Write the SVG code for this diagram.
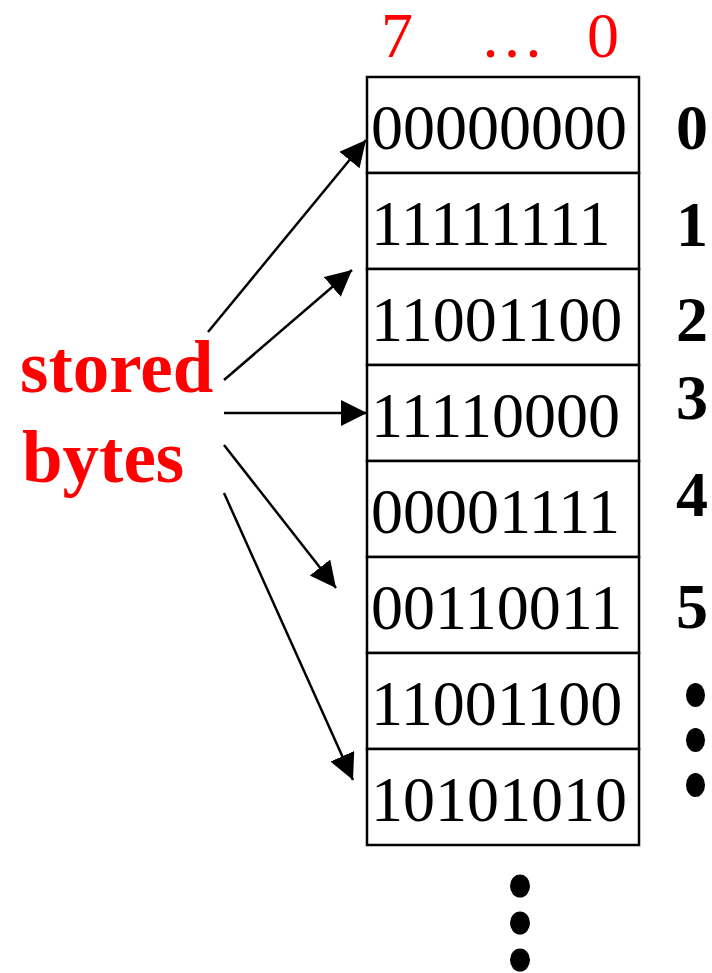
<svg xmlns="http://www.w3.org/2000/svg" width="712" height="973" viewBox="0 0 712 973">
<style>
.cell{fill:#fff;stroke:#000;stroke-width:2.5}
.bits{font-family:"Liberation Serif","Times New Roman",serif;font-size:64px;fill:#000}
.idx{font-family:"Liberation Serif","Times New Roman",serif;font-size:64px;font-weight:bold;fill:#000}
.hdr{font-family:"Liberation Serif","Times New Roman",serif;font-size:64px;fill:#f00}
.lbl{font-family:"Liberation Serif","Times New Roman",serif;font-size:73px;font-weight:bold;fill:#f00}
.conn{stroke:#000;stroke-width:2.5;fill:none;marker-end:url(#ah)}
.dot{fill:#000}
</style>
<defs>
<marker id="ah" markerUnits="userSpaceOnUse" markerWidth="28" markerHeight="28" refX="26" refY="13" orient="auto">
<path d="M0,0 L26,13 L0,26 Z" fill="#000"/>
</marker>
</defs>
<g id="header">
<text class="hdr" x="381" y="57">7</text>
<text class="hdr" x="480" y="57">…</text>
<text class="hdr" x="587" y="57">0</text>
</g>
<g id="label">
<text class="lbl" x="20" y="392">stored</text>
<text class="lbl" x="22" y="482">bytes</text>
</g>
<g id="row0"><rect class="cell" x="367" y="77" width="272" height="96"/><text class="bits" x="371" y="149">00000000</text></g>
<g id="row1"><rect class="cell" x="367" y="173" width="272" height="96"/><text class="bits" x="371" y="245">11111111</text></g>
<g id="row2"><rect class="cell" x="367" y="269" width="272" height="96"/><text class="bits" x="371" y="341">11001100</text></g>
<g id="row3"><rect class="cell" x="367" y="365" width="272" height="96"/><text class="bits" x="371" y="437">11110000</text></g>
<g id="row4"><rect class="cell" x="367" y="461" width="272" height="96"/><text class="bits" x="371" y="533">00001111</text></g>
<g id="row5"><rect class="cell" x="367" y="557" width="272" height="96"/><text class="bits" x="371" y="629">00110011</text></g>
<g id="row6"><rect class="cell" x="367" y="653" width="272" height="96"/><text class="bits" x="371" y="725">11001100</text></g>
<g id="row7"><rect class="cell" x="367" y="749" width="272" height="96"/><text class="bits" x="371" y="821">10101010</text></g>
<g id="addresses">
<text class="idx" x="676" y="149">0</text>
<text class="idx" x="676" y="246">1</text>
<text class="idx" x="676" y="341">2</text>
<text class="idx" x="676" y="419">3</text>
<text class="idx" x="676" y="516">4</text>
<text class="idx" x="676" y="628">5</text>
</g>
<g id="more-addresses">
<ellipse class="dot" cx="695.5" cy="695" rx="9.5" ry="12"/>
<ellipse class="dot" cx="695.5" cy="740" rx="9.5" ry="12"/>
<ellipse class="dot" cx="695.5" cy="785" rx="9.5" ry="12"/>
</g>
<g id="more-rows">
<ellipse class="dot" cx="520" cy="886" rx="10" ry="11.5"/>
<ellipse class="dot" cx="520" cy="923" rx="10" ry="11.5"/>
<ellipse class="dot" cx="520" cy="960" rx="10" ry="11.5"/>
</g>
<g id="connectors">
<line class="conn" x1="208" y1="332" x2="366" y2="140"/>
<line class="conn" x1="224" y1="380" x2="352" y2="270"/>
<line class="conn" x1="224" y1="413" x2="367" y2="413"/>
<line class="conn" x1="224" y1="445" x2="336" y2="588"/>
<line class="conn" x1="224" y1="493" x2="353" y2="780"/>
</g>
</svg>
